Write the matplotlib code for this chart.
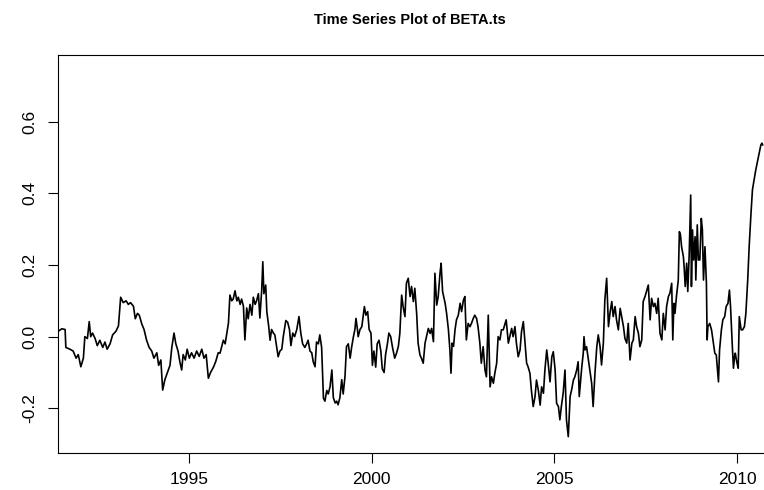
import matplotlib
matplotlib.use("Agg")
import matplotlib.pyplot as plt

plt.rcParams["font.family"] = ["Liberation Sans", "DejaVu Sans"]

# BETA.ts, decimal year and beta value
years = [
    1991.42, 1991.52, 1991.61, 1991.63, 1991.74, 1991.83, 1991.91, 1991.97,
    1992.04, 1992.11, 1992.15, 1992.22, 1992.27, 1992.31, 1992.36, 1992.43,
    1992.49, 1992.56, 1992.64, 1992.70, 1992.76, 1992.84, 1992.91, 1993.00,
    1993.07, 1993.13, 1993.20, 1993.28, 1993.34, 1993.40, 1993.48, 1993.53,
    1993.59, 1993.64, 1993.71, 1993.77, 1993.84, 1993.91, 1993.98, 1994.04,
    1994.12, 1994.17, 1994.23, 1994.28, 1994.34, 1994.41, 1994.48, 1994.53,
    1994.59, 1994.64, 1994.70, 1994.75, 1994.80, 1994.84, 1994.90, 1994.95,
    1995.01, 1995.07, 1995.14, 1995.21, 1995.28, 1995.35, 1995.41, 1995.47,
    1995.53, 1995.59, 1995.67, 1995.73, 1995.80, 1995.85, 1995.94, 1995.99,
    1996.03, 1996.08, 1996.12, 1996.17, 1996.21, 1996.26, 1996.31, 1996.35,
    1996.40, 1996.44, 1996.49, 1996.53, 1996.58, 1996.62, 1996.67, 1996.72,
    1996.76, 1996.81, 1996.85, 1996.90, 1996.94, 1996.99, 1997.02, 1997.05,
    1997.10, 1997.13, 1997.18, 1997.22, 1997.26, 1997.31, 1997.35, 1997.40,
    1997.44, 1997.49, 1997.54, 1997.58, 1997.65, 1997.70, 1997.75, 1997.79,
    1997.84, 1997.89, 1997.95, 1998.01, 1998.06, 1998.11, 1998.17, 1998.22,
    1998.26, 1998.31, 1998.36, 1998.40, 1998.45, 1998.49, 1998.54, 1998.58,
    1998.63, 1998.68, 1998.72, 1998.77, 1998.81, 1998.86, 1998.91, 1998.95,
    1999.00, 1999.04, 1999.08, 1999.13, 1999.18, 1999.22, 1999.27, 1999.31,
    1999.36, 1999.41, 1999.45, 1999.50, 1999.54, 1999.57, 1999.61, 1999.63,
    1999.68, 1999.73, 1999.77, 1999.80, 1999.84, 1999.89, 1999.93, 1999.98,
    2000.02, 2000.06, 2000.11, 2000.15, 2000.20, 2000.25, 2000.29, 2000.34,
    2000.38, 2000.43, 2000.47, 2000.52, 2000.57, 2000.63, 2000.68, 2000.73,
    2000.77, 2000.82, 2000.86, 2000.91, 2000.95, 2001.00, 2001.05, 2001.09,
    2001.14, 2001.18, 2001.23, 2001.27, 2001.32, 2001.36, 2001.41, 2001.46,
    2001.50, 2001.55, 2001.60, 2001.64, 2001.69, 2001.73, 2001.78, 2001.82,
    2001.87, 2001.90, 2001.94, 2002.01, 2002.05, 2002.10, 2002.14, 2002.17,
    2002.20, 2002.24, 2002.28, 2002.32, 2002.37, 2002.42, 2002.46, 2002.51,
    2002.55, 2002.59, 2002.64, 2002.69, 2002.73, 2002.78, 2002.82, 2002.87,
    2002.91, 2002.96, 2003.00, 2003.05, 2003.10, 2003.14, 2003.19, 2003.24,
    2003.28, 2003.33, 2003.37, 2003.42, 2003.46, 2003.51, 2003.55, 2003.60,
    2003.68, 2003.74, 2003.78, 2003.83, 2003.87, 2003.92, 2003.96, 2004.01,
    2004.06, 2004.10, 2004.15, 2004.19, 2004.24, 2004.28, 2004.33, 2004.37,
    2004.42, 2004.47, 2004.51, 2004.56, 2004.61, 2004.65, 2004.70, 2004.74,
    2004.79, 2004.83, 2004.88, 2004.93, 2004.97, 2005.02, 2005.06, 2005.11,
    2005.15, 2005.19, 2005.24, 2005.29, 2005.33, 2005.38, 2005.43, 2005.47,
    2005.52, 2005.56, 2005.61, 2005.65, 2005.68, 2005.72, 2005.75, 2005.79,
    2005.81, 2005.84, 2005.88, 2005.93, 2005.97, 2006.02, 2006.06, 2006.11,
    2006.16, 2006.20, 2006.25, 2006.29, 2006.34, 2006.38, 2006.43, 2006.48,
    2006.52, 2006.57, 2006.61, 2006.66, 2006.70, 2006.75, 2006.80, 2006.84,
    2006.89, 2006.93, 2006.98, 2007.02, 2007.07, 2007.12, 2007.16, 2007.21,
    2007.25, 2007.30, 2007.34, 2007.39, 2007.43, 2007.48, 2007.53, 2007.57,
    2007.62, 2007.66, 2007.71, 2007.75, 2007.80, 2007.84, 2007.89, 2007.94,
    2007.98, 2008.03, 2008.07, 2008.12, 2008.16, 2008.21, 2008.24, 2008.27,
    2008.30, 2008.34, 2008.39, 2008.42, 2008.45, 2008.48, 2008.53, 2008.55,
    2008.58, 2008.62, 2008.65, 2008.69, 2008.73, 2008.75, 2008.78, 2008.81,
    2008.85, 2008.87, 2008.91, 2008.94, 2008.98, 2009.02, 2009.05, 2009.08,
    2009.12, 2009.16, 2009.18, 2009.20, 2009.25, 2009.30, 2009.34, 2009.39,
    2009.43, 2009.49, 2009.52, 2009.57, 2009.61, 2009.66, 2009.70, 2009.75,
    2009.79, 2009.82, 2009.87, 2009.90, 2009.93, 2009.95, 2009.99, 2010.03,
    2010.06, 2010.11, 2010.15, 2010.20, 2010.24, 2010.29, 2010.33, 2010.38,
    2010.42, 2010.47, 2010.51, 2010.56, 2010.60, 2010.65, 2010.68, 2010.70,
]

beta = [
    0.015, 0.022, 0.020, -0.030, -0.035, -0.040, -0.060, -0.050,
    -0.084, -0.060, 0.000, -0.005, 0.042, 0.000, 0.010, -0.005,
    -0.025, -0.010, -0.030, -0.015, -0.035, -0.020, 0.005, 0.015,
    0.030, 0.110, 0.095, 0.100, 0.090, 0.095, 0.085, 0.050,
    0.065, 0.060, 0.035, 0.020, -0.010, -0.030, -0.040, -0.060,
    -0.045, -0.080, -0.065, -0.149, -0.120, -0.100, -0.080, -0.030,
    0.010, -0.020, -0.040, -0.070, -0.093, -0.050, -0.065, -0.035,
    -0.060, -0.045, -0.060, -0.040, -0.055, -0.035, -0.060, -0.050,
    -0.116, -0.100, -0.085, -0.070, -0.045, -0.046, -0.010, -0.020,
    0.005, 0.038, 0.116, 0.100, 0.105, 0.128, 0.100, 0.110,
    0.090, 0.105, 0.085, -0.009, 0.080, 0.050, 0.090, 0.060,
    0.110, 0.090, 0.100, 0.120, 0.052, 0.130, 0.209, 0.120,
    0.144, 0.070, 0.030, -0.010, 0.020, 0.010, 0.005, -0.030,
    -0.056, -0.040, -0.035, 0.000, 0.045, 0.040, 0.020, -0.025,
    0.010, 0.000, 0.020, 0.056, 0.010, -0.020, -0.030, -0.020,
    -0.010, -0.040, -0.045, -0.070, -0.084, -0.015, -0.020, 0.005,
    -0.030, -0.172, -0.180, -0.150, -0.160, -0.140, -0.093, -0.170,
    -0.185, -0.180, -0.190, -0.170, -0.120, -0.160, -0.110, -0.028,
    -0.020, -0.060, -0.030, 0.000, 0.020, 0.051, 0.020, 0.000,
    0.020, 0.028, 0.060, 0.084, 0.060, 0.070, 0.020, 0.010,
    -0.080, -0.040, -0.085, -0.020, -0.010, -0.040, -0.090, -0.100,
    -0.050, -0.020, 0.010, 0.000, -0.030, -0.060, -0.046, -0.027,
    0.009, 0.116, 0.084, 0.056, 0.149, 0.163, 0.112, 0.140,
    0.098, 0.135, 0.065, -0.018, -0.051, -0.060, -0.074, -0.018,
    0.000, 0.023, 0.009, 0.023, -0.014, 0.177, 0.088, 0.112,
    0.177, 0.205, 0.126, 0.093, 0.065, 0.019, -0.037, -0.102,
    -0.018, -0.027, 0.019, 0.047, 0.060, 0.093, 0.070, 0.102,
    0.112, -0.009, 0.037, 0.028, 0.037, 0.051, 0.060, 0.051,
    0.028, -0.018, -0.074, -0.028, -0.093, -0.112, 0.060, -0.140,
    -0.112, -0.130, -0.102, -0.074, 0.000, -0.009, 0.019, 0.019,
    0.047, -0.018, 0.000, 0.023, 0.000, 0.028, -0.018, -0.056,
    -0.037, 0.014, 0.042, -0.009, -0.074, -0.084, -0.102, -0.149,
    -0.195, -0.167, -0.121, -0.149, -0.191, -0.140, -0.158, -0.093,
    -0.037, -0.074, -0.126, -0.056, -0.042, -0.093, -0.186, -0.195,
    -0.232, -0.195, -0.158, -0.093, -0.232, -0.279, -0.167, -0.149,
    -0.121, -0.112, -0.093, -0.070, -0.167, -0.121, -0.084, -0.046,
    0.000, -0.037, -0.028, -0.065, -0.093, -0.130, -0.195, -0.102,
    -0.028, 0.005, -0.028, -0.079, -0.018, 0.102, 0.163, 0.028,
    0.065, 0.098, 0.056, 0.084, 0.047, 0.019, 0.079, 0.056,
    0.028, -0.005, -0.018, 0.037, -0.065, -0.018, -0.009, 0.056,
    0.028, 0.009, -0.028, -0.009, 0.098, 0.112, 0.130, 0.144,
    0.047, 0.107, 0.084, 0.093, 0.065, 0.107, 0.009, -0.009,
    0.065, 0.019, 0.084, 0.112, 0.121, 0.149, -0.009, 0.093,
    0.065, 0.112, 0.158, 0.293, 0.284, 0.251, 0.223, 0.195,
    0.140, 0.205, 0.126, 0.233, 0.395, 0.140, 0.298, 0.214,
    0.279, 0.158, 0.312, 0.214, 0.214, 0.330, 0.298, 0.158,
    0.251, 0.149, -0.009, 0.028, 0.037, 0.019, -0.009, -0.046,
    -0.051, -0.126, -0.037, 0.019, 0.047, 0.056, 0.084, 0.093,
    0.130, 0.084, -0.028, -0.088, -0.056, -0.046, -0.070, -0.088,
    0.056, 0.019, 0.019, 0.028, 0.065, 0.158, 0.251, 0.344,
    0.410, 0.440, 0.465, 0.490, 0.510, 0.535, 0.540, 0.535,
]

xticks = [1995, 2000, 2005, 2010]
yticks = [-0.2, 0.0, 0.2, 0.4, 0.6]

fig = plt.figure(figsize=(7.64, 4.90), dpi=100)
ax = fig.add_axes([0.0759, 0.0761, 0.9241, 0.8117])

ax.plot(years, beta, color="black", linewidth=1.2)

ax.set_xlim(1991.415, 2010.736)
ax.set_ylim(-0.3238, 0.786)

ax.set_xticks(xticks)
ax.set_xticklabels([str(t) for t in xticks])
ax.set_yticks(yticks)
ax.set_yticklabels(["%.1f" % t for t in yticks], rotation=90, va="center")

ax.tick_params(axis="both", direction="out", length=7.2, width=0.8,
               labelsize=12.5, color="black")
ax.tick_params(axis="x", pad=6.5)
ax.tick_params(axis="y", pad=8)

# the plot box runs off the right edge, so only three sides show
for side in ["left", "bottom", "top"]:
    ax.spines[side].set_linewidth(0.8)
    ax.spines[side].set_color("black")
ax.spines["right"].set_visible(False)

fig.text(0.537, 0.959, "Time Series Plot of BETA.ts", ha="center", va="center",
         fontsize=10.5, fontweight="bold")

fig.savefig("out.png", dpi=100)
